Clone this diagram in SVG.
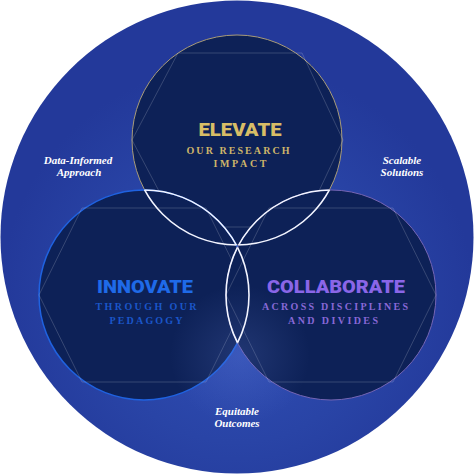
<svg xmlns="http://www.w3.org/2000/svg" width="474" height="474" viewBox="0 0 474 474">
  <defs>
    <radialGradient id="outerGrad" cx="237" cy="300" r="237" gradientUnits="userSpaceOnUse">
      <stop offset="0" stop-color="#3150b8"/>
      <stop offset="0.6" stop-color="#2944a6"/>
      <stop offset="1" stop-color="#23399a"/>
    </radialGradient>
    <radialGradient id="glow" cx="240" cy="355" r="70" gradientUnits="userSpaceOnUse">
      <stop offset="0" stop-color="#6f8ae0" stop-opacity="0.2"/>
      <stop offset="1" stop-color="#6f8ae0" stop-opacity="0"/>
    </radialGradient>
    <clipPath id="clipLR">
      <circle cx="144" cy="295" r="105"/>
      <circle cx="331" cy="295" r="105"/>
    </clipPath>
    <clipPath id="clipTR">
      <circle cx="237" cy="140" r="105"/>
      <circle cx="331" cy="295" r="105"/>
    </clipPath>
    <clipPath id="clipTL">
      <circle cx="237" cy="140" r="105"/>
      <circle cx="144" cy="295" r="105"/>
    </clipPath>
    <style>
      .disc { fill: #0d2157; }
      .hex { fill: none; stroke: #ffffff; stroke-opacity: 0.22; stroke-width: 0.8; }
      .lens { fill: none; stroke: #f2f4ff; stroke-width: 1.6; }
      .title { font-family: Roboto, "Liberation Sans", Arial, sans-serif; font-weight: 900; font-size: 19px; text-anchor: middle; }
      .sub { font-family: "Liberation Serif", "Times New Roman", serif; font-weight: bold; font-size: 10px; text-anchor: middle; }
      .side { font-family: "Liberation Serif", "Times New Roman", serif; font-weight: bold; font-style: italic; font-size: 11px; fill: #ffffff; text-anchor: middle; }
    </style>
  </defs>

  <rect x="0" y="0" width="474" height="474" fill="#ffffff"/>
  <circle id="outer" cx="237" cy="237" r="236.5" fill="url(#outerGrad)"/>

  <g id="elevate">
    <circle class="disc" cx="237" cy="140" r="105" stroke="#a89b78" stroke-width="1"/>
    <polygon class="hex" points="178,53 302,53 343,140 302,227 178,227 132,140"/>
    <text class="title" x="240" y="136" fill="#d8bd66" textLength="83" lengthAdjust="spacingAndGlyphs">ELEVATE</text>
    <text class="sub" x="238" y="153.5" fill="#cdb56a" textLength="103" lengthAdjust="spacing">OUR RESEARCH</text>
    <text class="sub" x="240" y="167" fill="#cdb56a" textLength="53" lengthAdjust="spacing">IMPACT</text>
  </g>

  <g id="innovate">
    <circle class="disc" cx="144" cy="295" r="105" stroke="#1f62e0" stroke-width="1.5"/>
    <polygon class="hex" points="82,208 206,208 249,295 206,382 82,382 39,295"/>
    <text class="title" x="145" y="293" fill="#1f6ae8" textLength="96" lengthAdjust="spacingAndGlyphs">INNOVATE</text>
    <text class="sub" x="146" y="310" fill="#1b56c9" textLength="101" lengthAdjust="spacing">THROUGH OUR</text>
    <text class="sub" x="146" y="323.5" fill="#1b56c9" textLength="73" lengthAdjust="spacing">PEDAGOGY</text>
  </g>

  <g id="collaborate">
    <circle class="disc" cx="331" cy="295" r="105" stroke="#7565b4" stroke-width="1"/>
    <polygon class="hex" points="269,208 393,208 436,295 393,382 269,382 226,295"/>
    <text class="title" x="336" y="293" fill="#8a66e8" textLength="138" lengthAdjust="spacingAndGlyphs">COLLABORATE</text>
    <text class="sub" x="335" y="310" fill="#8868d6" textLength="146" lengthAdjust="spacing">ACROSS DISCIPLINES</text>
    <text class="sub" x="333" y="323.5" fill="#8868d6" textLength="90" lengthAdjust="spacing">AND DIVIDES</text>
  </g>

  <circle cx="240" cy="355" r="70" fill="url(#glow)"/>

  <g id="connectors">
    <circle class="lens" cx="237" cy="140" r="105" clip-path="url(#clipLR)"/>
    <circle class="lens" cx="144" cy="295" r="105" clip-path="url(#clipTR)"/>
    <circle class="lens" cx="331" cy="295" r="105" clip-path="url(#clipTL)"/>
  </g>

  <g id="labels">
    <text class="side" x="78" y="163.5">Data-Informed</text>
    <text class="side" x="79" y="175.5">Approach</text>
    <text class="side" x="402" y="163.5">Scalable</text>
    <text class="side" x="402" y="175.5">Solutions</text>
    <text class="side" x="237" y="414.5">Equitable</text>
    <text class="side" x="237" y="426.5">Outcomes</text>
  </g>
</svg>
